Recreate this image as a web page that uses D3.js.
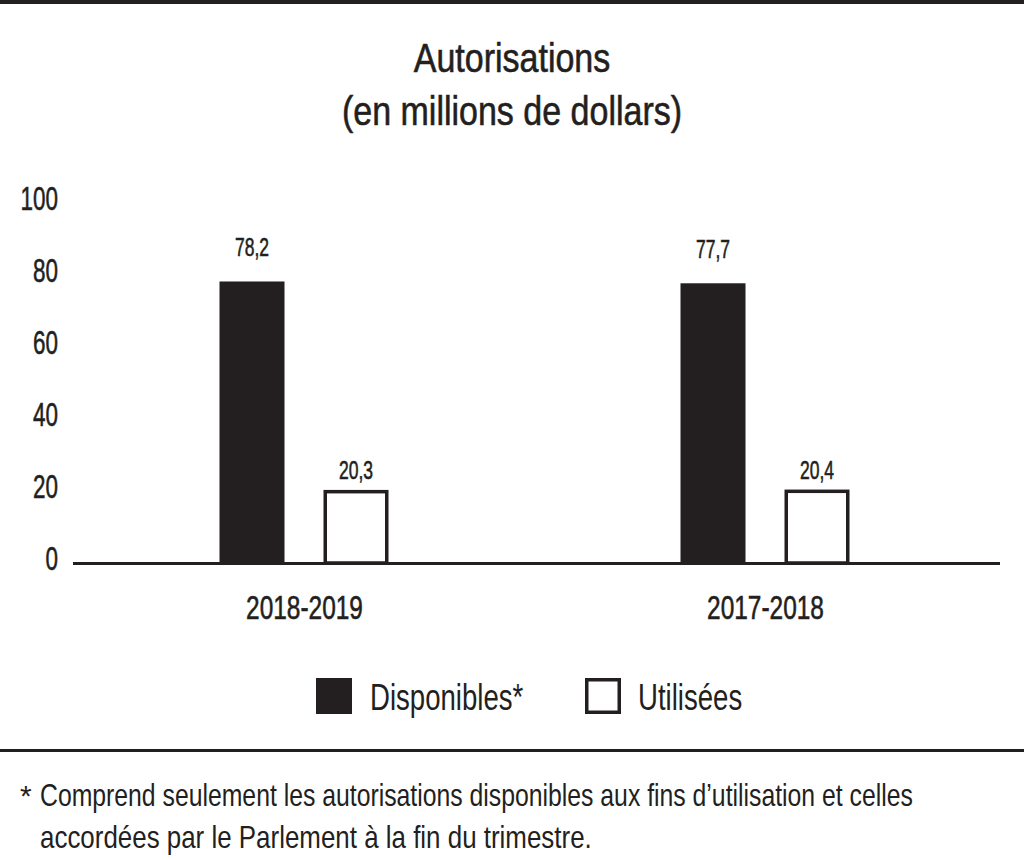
<!DOCTYPE html>
<html><head><meta charset="utf-8">
<script src="https://cdn.jsdelivr.net/npm/d3@7"></script>
<style>
body{margin:0;background:#fff;}
svg text{font-family:"Liberation Sans","Arimo",Arial,sans-serif;fill:#231f20;}
svg text.bold{stroke:#231f20;stroke-width:0.6px;}
</style></head><body>
<svg id="c" width="1024" height="860"></svg>
<script>
const categories = ["2018-2019", "2017-2018"];
const seriesNames = ["Disponibles*", "Utilisées"];
const disponibles = [78.2, 77.7];
const utilisees = [20.3, 20.4];
const valueLabels = [["78,2", "20,3"], ["77,7", "20,4"]];
const yTicks = [0, 20, 40, 60, 80, 100];
const titleLines = ["Autorisations", "(en millions de dollars)"];
const footLines = ["Comprend seulement les autorisations disponibles aux fins d\u2019utilisation et celles", "accordées par le Parlement à la fin du trimestre."];

const ink = "#231f20";
const svg = d3.select("#c");

// horizontal condensing of text to mimic a condensed face
function squeeze(sel, f){
  sel.each(function(){
    const w = this.getComputedTextLength();
    this.setAttribute("textLength", w*f);
    this.setAttribute("lengthAdjust","spacingAndGlyphs");
  });
}

svg.append("rect").attr("x",0).attr("y",0).attr("width",1024).attr("height",4).attr("fill",ink);

svg.selectAll(".title").data(titleLines).join("text").attr("class","title bold")
  .attr("x",512).attr("y",(d,i)=>72+i*53).attr("text-anchor","middle")
  .attr("font-size",40).text(d=>d).call(squeeze,0.85);

const y = d3.scaleLinear().domain([0,100]).range([563,203]);
const xc = d3.scalePoint().domain(categories).range([304,765]);
const x1 = d3.scaleBand().domain(seriesNames).range([-84.5,84.5]).paddingInner(0.375);

const yAxis = d3.axisLeft(y).tickValues(yTicks).tickSize(0).tickPadding(0);
const gy = svg.append("g").attr("transform","translate(58,0)").call(yAxis);
gy.select(".domain").remove();
gy.selectAll("text").attr("class","bold").attr("font-size",34).attr("dy",null).attr("y",6)
  .style("font-family",null).attr("fill",ink).call(squeeze,0.66);

const data = categories.map((c,i)=>({cat:c, vals:[disponibles[i], utilisees[i]], labels:valueLabels[i]}));
const g = svg.selectAll(".grp").data(data).join("g").attr("class","grp")
  .attr("transform",d=>`translate(${xc(d.cat)},0)`);

const sw = 3.5;
g.selectAll("rect").data(d=>d.vals.map((v,j)=>({v,j,s:seriesNames[j]}))).join("rect")
  .attr("x",d=>x1(d.s)+(d.j?sw/2:0)).attr("width",d=>x1.bandwidth()-(d.j?sw:0))
  .attr("y",d=>y(d.v)+(d.j?sw/2:0)).attr("height",d=>y(0)-y(d.v)-(d.j?sw/2:0))
  .attr("fill",d=>d.j?"#fff":ink).attr("stroke",d=>d.j?ink:"none").attr("stroke-width",sw);

const labelGap = [25, 11];
g.selectAll(".vl").data(d=>d.vals.map((v,j)=>({v,j,s:seriesNames[j],t:d.labels[j]}))).join("text").attr("class","vl bold")
  .attr("x",d=>x1(d.s)+x1.bandwidth()/2).attr("y",d=>y(d.v)-labelGap[d.j]).attr("text-anchor","middle")
  .attr("font-size",26.5).text(d=>d.t).call(squeeze,0.66);

svg.append("line").attr("x1",73).attr("x2",1000).attr("y1",y(0)+0.5).attr("y2",y(0)+0.5).attr("stroke",ink).attr("stroke-width",3);

const xAxis = d3.axisBottom(xc).tickSize(0).tickPadding(0);
const gx = svg.append("g").attr("transform",`translate(0,${y(0)})`).call(xAxis);
gx.select(".domain").remove();
gx.selectAll("text").attr("class","bold").attr("font-size",33).attr("dy",null).attr("y",56)
  .style("font-family",null).attr("fill",ink).call(squeeze,0.74);

// legend
const legX = [316, 585];
const lg = svg.selectAll(".leg").data(seriesNames).join("g").attr("class","leg")
  .attr("transform",(d,i)=>`translate(${legX[i]},678)`);
lg.append("rect").attr("x",(d,i)=>i?sw/2:0).attr("y",(d,i)=>i?sw/2:0)
  .attr("width",(d,i)=>i?36-sw:36).attr("height",(d,i)=>i?36-sw:36)
  .attr("fill",(d,i)=>i?"#fff":ink).attr("stroke",(d,i)=>i?ink:"none").attr("stroke-width",sw);
lg.append("text").attr("x",(d,i)=>i?53:54).attr("y",32).attr("font-size",37).text(d=>d).call(squeeze,0.745);

svg.append("rect").attr("x",0).attr("y",749).attr("width",1024).attr("height",3).attr("fill",ink);

svg.append("text").attr("x",20).attr("y",806).attr("font-size",30).text("*");
const footFactor = [0.774, 0.81];
svg.selectAll(".fn").data(footLines).join("text").attr("class","fn")
  .attr("x",40).attr("y",(d,i)=>806+i*42).attr("font-size",32).text(d=>d)
  .each(function(d,i){ d3.select(this).call(squeeze, footFactor[i]); });
</script></body></html>
